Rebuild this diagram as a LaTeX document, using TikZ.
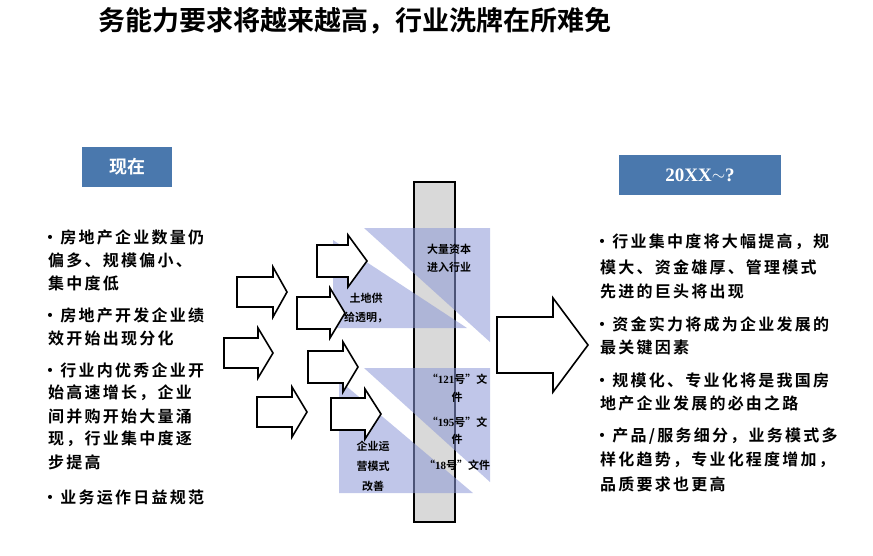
\documentclass[tikz,border=0pt]{standalone}
\usepackage{fontspec}
\setmainfont{Noto Sans CJK SC}[BoldFont={Noto Sans CJK SC Bold}]
\newfontfamily\lat{Liberation Serif}[BoldFont={Liberation Serif Bold}]
\newfontfamily\wide{Noto Sans CJK SC Bold}[LetterSpace=14]
\newcommand\blkarr[6]{\draw[arr] (#1,#4-#5) -- (#2,#4-#5) -- (#2,#4-#6) -- (#3,#4) -- (#2,#4+#6) -- (#2,#4+#5) -- (#1,#4+#5) -- cycle;}
\begin{document}
\begin{tikzpicture}[x=1pt,y=-1pt,
  arr/.style={draw=black,line width=1.6pt,fill=white,line join=miter},
  tri/.style={fill={rgb,255:red,140;green,152;blue,215},fill opacity=0.55},
  hdr/.style={fill={rgb,255:red,74;green,120;blue,173},text=white},
  txt/.style={anchor=west,font=\wide\fontsize{16}{16}\selectfont,inner sep=0pt},
  mid/.style={font=\bfseries\fontsize{11}{11}\selectfont,inner sep=0pt}]
\useasboundingbox (0,0) rectangle (873,555);
\node[font=\bfseries\fontsize{27}{27}\selectfont,anchor=west,inner sep=0pt] (title) at (98,21) {务能力要求将越来越高，行业洗牌在所难免};
\node[hdr,minimum width=90pt,minimum height=40pt,font=\bfseries\fontsize{18}{18}\selectfont] (now) at (127,167) {现在};
\node[hdr,minimum width=162pt,minimum height=40pt,font=\lat\bfseries\fontsize{19}{19}\selectfont] (fut) at (700,175) {20XX\raisebox{1pt}{$\sim$}?};
% bar
\draw[fill={rgb,255:red,217;green,217;blue,217},line width=2pt] (414,182) rectangle (455,522);
% triangles
\fill[tri] (364,228) -- (490,228) -- (490,342) -- cycle;
\fill[tri] (333,240) -- (333,328) -- (467,328) -- cycle;
\fill[tri] (364,368) -- (490,368) -- (490,482) -- cycle;
\fill[tri] (339,380) -- (339,493) -- (473,493) -- cycle;
% middle labels
\node[mid] (m1) at (449,249) {大量资本};
\node[mid] (m2) at (449,267) {进入行业};
\node[mid] (m3) at (366,298) {土地供};
\node[mid] (m4) at (366,318) {给透明，};
\node[mid] (m5) at (457,379) {“{\lat\bfseries 121}号”文};
\node[mid] (m6) at (457,397) {件};
\node[mid] (m7) at (457,422) {“{\lat\bfseries 195}号”文};
\node[mid] (m8) at (457,439) {件};
\node[mid] (m9) at (457,465) {“{\lat\bfseries 18}号”文件};
\node[mid] (m10) at (373,446) {企业运};
\node[mid] (m11) at (373,466) {营模式};
\node[mid] (m12) at (373,486) {改善};
% arrows
\blkarr{317}{348}{367}{261}{16}{26}
\blkarr{237}{273}{287}{292}{15}{25}
\blkarr{297}{330}{345}{313}{16}{25}
\blkarr{224}{258}{273}{353}{15}{25}
\blkarr{308}{343}{358}{367}{16}{25}
\blkarr{257}{292}{307}{412}{15}{25}
\blkarr{331}{365}{381}{414}{16}{25}
\blkarr{497}{553}{588}{345}{28}{47}
% left text
\foreach \y/\t in {237/{•房地产企业数量仍}, 260/{\ 偏多、规模偏小、}, 283/{\ 集中度低}, 315/{•房地产开发企业绩}, 338/{\ 效开始出现分化}, 370/{•行业内优秀企业开}, 393/{\ 始高速增长，企业}, 416/{\ 间并购开始大量涌}, 439/{\ 现，行业集中度逐}, 462/{\ 步提高}, 497/{•业务运作日益规范}}
  \node[txt] at (42,\y) {\t};
% right text
\foreach \y/\t in {242/{•行业集中度将大幅提高，规}, 267/{\ 模大、资金雄厚、管理模式}, 291/{\ 先进的巨头将出现}, 324/{•资金实力将成为企业发展的}, 347/{\ 最关键因素}, 380/{•规模化、专业化将是我国房}, 403/{\ 地产企业发展的必由之路}, 436/{•产品/服务细分，业务模式多}, 460/{\ 样化趋势，专业化程度增加，}, 484/{\ 品质要求也更高}}
  \node[txt] at (594,\y) {\t};
\end{tikzpicture}
\end{document}
